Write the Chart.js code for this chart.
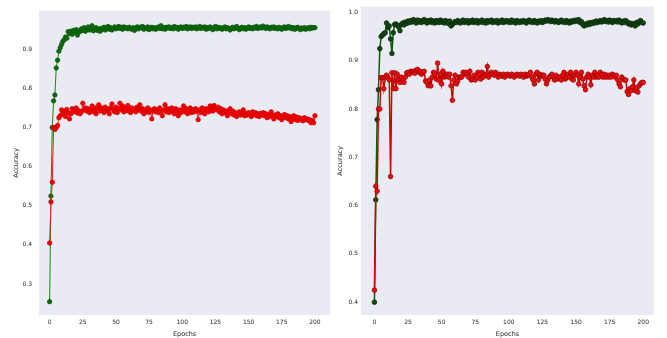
<!DOCTYPE html>
<html>
<head>
<meta charset="utf-8">
<script src="https://cdn.jsdelivr.net/npm/chart.js@4.4.1/dist/chart.umd.min.js"></script>
<style>
  html, body { margin: 0; padding: 0; background: #fff; }
  .panel { position: absolute; top: 0; height: 338px; }
  #left  { left: 0;     width: 335px; }
  #right { left: 335px; width: 332px; }
</style>
</head>
<body>
<div class="panel" id="left"><canvas id="chartLeft"></canvas></div>
<div class="panel" id="right"><canvas id="chartRight"></canvas></div>
<script>
'use strict';

/* ─── Data ─────────────────────────────────────────────────── */
const epochs = Array.from({ length: 201 }, (_, i) => i);
const xTicks = [0, 25, 50, 75, 100, 125, 150, 175, 200];
const yTicksLeft  = [0.3, 0.4, 0.5, 0.6, 0.7, 0.8, 0.9];
const yTicksRight = [0.4, 0.5, 0.6, 0.7, 0.8, 0.9, 1.0];

// left panel – training accuracy
const trainLeft = [
  0.255, 0.525, 0.700, 0.768, 0.783, 0.852, 0.872, 0.895, 0.904, 0.912,
  0.920, 0.924, 0.931, 0.928, 0.945, 0.940, 0.946, 0.938, 0.948, 0.944,
  0.950, 0.936, 0.947, 0.945, 0.952, 0.948, 0.955, 0.946, 0.950, 0.957,
  0.949, 0.953, 0.960, 0.947, 0.951, 0.955, 0.948, 0.952, 0.946, 0.953,
  0.950, 0.956, 0.949, 0.954, 0.958, 0.951, 0.955, 0.949, 0.953, 0.957,
  0.952, 0.955, 0.958, 0.953, 0.956, 0.951, 0.957, 0.954, 0.955, 0.952,
  0.956, 0.953, 0.951, 0.955, 0.948, 0.954, 0.957, 0.952, 0.956, 0.955,
  0.958, 0.951, 0.955, 0.953, 0.957, 0.950, 0.954, 0.956, 0.952, 0.955,
  0.951, 0.954, 0.957, 0.953, 0.960, 0.952, 0.955, 0.951, 0.956, 0.954,
  0.957, 0.953, 0.955, 0.952, 0.958, 0.954, 0.956, 0.951, 0.955, 0.957,
  0.953, 0.956, 0.954, 0.958, 0.952, 0.955, 0.957, 0.953, 0.956, 0.954,
  0.957, 0.952, 0.955, 0.958, 0.953, 0.956, 0.954, 0.957, 0.951, 0.955,
  0.953, 0.957, 0.954, 0.950, 0.955, 0.958, 0.952, 0.956, 0.953, 0.955,
  0.951, 0.954, 0.957, 0.952, 0.955, 0.953, 0.949, 0.954, 0.956, 0.952,
  0.955, 0.958, 0.953, 0.950, 0.954, 0.956, 0.952, 0.955, 0.951, 0.954,
  0.957, 0.953, 0.955, 0.952, 0.956, 0.954, 0.958, 0.953, 0.955, 0.957,
  0.954, 0.959, 0.956, 0.953, 0.957, 0.955, 0.952, 0.956, 0.954, 0.957,
  0.953, 0.955, 0.952, 0.956, 0.954, 0.951, 0.955, 0.957, 0.953, 0.955,
  0.958, 0.954, 0.956, 0.952, 0.955, 0.951, 0.954, 0.956, 0.953, 0.950,
  0.954, 0.952, 0.955, 0.951, 0.953, 0.955, 0.952, 0.956, 0.954, 0.955,
  0.955
];

// left panel – validation accuracy
const valLeft = [
  0.405, 0.510, 0.560, 0.700, 0.695, 0.700, 0.705, 0.725, 0.730, 0.745,
  0.735, 0.742, 0.728, 0.746, 0.738, 0.722, 0.735, 0.748, 0.740, 0.745,
  0.750, 0.737, 0.743, 0.735, 0.740, 0.762, 0.745, 0.750, 0.742, 0.748,
  0.738, 0.745, 0.755, 0.740, 0.750, 0.735, 0.748, 0.758, 0.742, 0.750,
  0.745, 0.738, 0.752, 0.743, 0.747, 0.735, 0.750, 0.760, 0.745, 0.740,
  0.752, 0.738, 0.748, 0.762, 0.745, 0.755, 0.740, 0.750, 0.743, 0.756,
  0.745, 0.738, 0.750, 0.744, 0.748, 0.740, 0.752, 0.745, 0.758, 0.742,
  0.748, 0.735, 0.745, 0.740, 0.750, 0.738, 0.745, 0.722, 0.742, 0.748,
  0.740, 0.745, 0.738, 0.750, 0.742, 0.730, 0.745, 0.758, 0.740, 0.748,
  0.738, 0.745, 0.750, 0.740, 0.735, 0.748, 0.742, 0.730, 0.745, 0.738,
  0.745, 0.755, 0.740, 0.748, 0.735, 0.742, 0.750, 0.738, 0.745, 0.740,
  0.748, 0.742, 0.720, 0.745, 0.738, 0.750, 0.742, 0.735, 0.748, 0.745,
  0.740, 0.755, 0.748, 0.742, 0.756, 0.750, 0.745, 0.752, 0.740, 0.748,
  0.735, 0.745, 0.738, 0.742, 0.730, 0.740, 0.748, 0.735, 0.742, 0.732,
  0.738, 0.728, 0.735, 0.740, 0.732, 0.738, 0.745, 0.730, 0.736, 0.732,
  0.738, 0.735, 0.728, 0.740, 0.733, 0.738, 0.730, 0.735, 0.728, 0.736,
  0.732, 0.738, 0.730, 0.735, 0.725, 0.733, 0.728, 0.740, 0.730, 0.722,
  0.732, 0.728, 0.735, 0.725, 0.730, 0.720, 0.728, 0.733, 0.725, 0.730,
  0.722, 0.728, 0.715, 0.725, 0.730, 0.720, 0.727, 0.718, 0.725, 0.720,
  0.723, 0.717, 0.725, 0.720, 0.722, 0.718, 0.720, 0.712, 0.718, 0.712,
  0.730
];

// right panel – training accuracy
const trainRight = [
  0.400, 0.612, 0.778, 0.840, 0.925, 0.950, 0.953, 0.956, 0.958, 0.978,
  0.968, 0.972, 0.945, 0.915, 0.958, 0.975, 0.976, 0.973, 0.970, 0.962,
  0.975, 0.978, 0.974, 0.980, 0.977, 0.982, 0.979, 0.983, 0.980, 0.985,
  0.981, 0.978, 0.984, 0.980, 0.983, 0.979, 0.982, 0.985, 0.981, 0.978,
  0.983, 0.980, 0.984, 0.979, 0.982, 0.978, 0.983, 0.981, 0.979, 0.984,
  0.980, 0.982, 0.978, 0.983, 0.980, 0.977, 0.982, 0.972, 0.975, 0.978,
  0.981, 0.979, 0.983, 0.980, 0.978, 0.982, 0.984, 0.979, 0.981, 0.983,
  0.978, 0.982, 0.980, 0.984, 0.979, 0.981, 0.983, 0.978, 0.982, 0.980,
  0.984, 0.979, 0.982, 0.978, 0.983, 0.980, 0.981, 0.984, 0.979, 0.982,
  0.980, 0.983, 0.978, 0.982, 0.980, 0.984, 0.979, 0.981, 0.983, 0.980,
  0.982, 0.979, 0.984, 0.980, 0.982, 0.978, 0.983, 0.981, 0.979, 0.982,
  0.980, 0.983, 0.981, 0.978, 0.982, 0.984, 0.980, 0.982, 0.979, 0.983,
  0.981, 0.978, 0.982, 0.980, 0.983, 0.979, 0.981, 0.984, 0.982, 0.985,
  0.983, 0.981, 0.984, 0.982, 0.980, 0.983, 0.981, 0.979, 0.982, 0.984,
  0.980, 0.982, 0.979, 0.983, 0.981, 0.978, 0.982, 0.980, 0.983, 0.981,
  0.984, 0.982, 0.985, 0.979, 0.981, 0.975, 0.972, 0.976, 0.974, 0.978,
  0.975, 0.979, 0.977, 0.980, 0.978, 0.982, 0.979, 0.981, 0.983, 0.980,
  0.982, 0.985, 0.981, 0.983, 0.980, 0.984, 0.982, 0.979, 0.983, 0.981,
  0.983, 0.980, 0.984, 0.981, 0.978, 0.982, 0.979, 0.983, 0.980, 0.976,
  0.978, 0.974, 0.977, 0.975, 0.972, 0.979, 0.976, 0.981, 0.983, 0.979,
  0.978
];

// right panel – validation accuracy
const valRight = [
  0.425, 0.640, 0.630, 0.800, 0.800, 0.865, 0.865, 0.842, 0.865, 0.870,
  0.866, 0.860, 0.660, 0.875, 0.842, 0.875, 0.842, 0.872, 0.860, 0.855,
  0.866, 0.860, 0.855, 0.866, 0.875, 0.876, 0.872, 0.878, 0.876, 0.878,
  0.874, 0.880, 0.882, 0.876, 0.878, 0.872, 0.876, 0.878, 0.858, 0.855,
  0.848, 0.860, 0.848, 0.866, 0.876, 0.872, 0.862, 0.895, 0.860, 0.872,
  0.852, 0.878, 0.866, 0.870, 0.872, 0.866, 0.872, 0.848, 0.818, 0.860,
  0.870, 0.852, 0.858, 0.866, 0.866, 0.866, 0.876, 0.872, 0.876, 0.872,
  0.866, 0.878, 0.860, 0.862, 0.870, 0.860, 0.866, 0.876, 0.872, 0.862,
  0.876, 0.866, 0.872, 0.870, 0.888, 0.866, 0.872, 0.876, 0.872, 0.870,
  0.876, 0.872, 0.866, 0.872, 0.870, 0.868, 0.872, 0.866, 0.870, 0.872,
  0.870, 0.868, 0.872, 0.870, 0.866, 0.870, 0.872, 0.870, 0.868, 0.872,
  0.870, 0.866, 0.872, 0.868, 0.870, 0.872, 0.876, 0.866, 0.860, 0.852,
  0.872, 0.876, 0.860, 0.872, 0.868, 0.870, 0.870, 0.862, 0.852, 0.860,
  0.866, 0.868, 0.872, 0.866, 0.860, 0.870, 0.862, 0.866, 0.866, 0.860,
  0.870, 0.876, 0.862, 0.866, 0.872, 0.866, 0.876, 0.862, 0.860, 0.870,
  0.876, 0.870, 0.852, 0.866, 0.876, 0.862, 0.848, 0.840, 0.866, 0.872,
  0.866, 0.850, 0.870, 0.866, 0.876, 0.866, 0.870, 0.866, 0.876, 0.872,
  0.866, 0.872, 0.866, 0.870, 0.866, 0.870, 0.866, 0.872, 0.870, 0.866,
  0.870, 0.860, 0.852, 0.846, 0.866, 0.862, 0.860, 0.860, 0.836, 0.830,
  0.842, 0.838, 0.846, 0.860, 0.838, 0.844, 0.835, 0.848, 0.852, 0.855,
  0.855
];

/* ─── Helpers ──────────────────────────────────────────────── */
const toPoints = vals => vals.map((v, i) => ({ x: epochs[i], y: v }));

// seaborn-ish grey plot area
const plotBackground = {
  id: 'plotBackground',
  beforeDraw(chart) {
    const { ctx, chartArea: a } = chart;
    ctx.save();
    ctx.fillStyle = '#eaeaf2';
    ctx.fillRect(a.left, a.top, a.right - a.left, a.bottom - a.top);
    ctx.restore();
  }
};

const FONT = 'DejaVu Sans';
const TEXT = '#262626';

function buildChart(canvasId, cfg) {
  return new Chart(document.getElementById(canvasId), {
    type: 'line',
    data: {
      datasets: [
        {
          label: 'train',
          data: toPoints(cfg.train),
          borderColor: cfg.trainLine,
          backgroundColor: cfg.trainDot,
          pointBorderColor: cfg.trainDotEdge,
          borderWidth: cfg.lineWidth,
          pointRadius: cfg.dotRadius,
          pointBorderWidth: 0.8,
          tension: 0,
          order: 2,
        },
        {
          label: 'val',
          data: toPoints(cfg.val),
          borderColor: cfg.valLine,
          backgroundColor: cfg.valDot,
          pointBorderColor: cfg.valDotEdge,
          borderWidth: cfg.lineWidth,
          pointRadius: cfg.dotRadius,
          pointBorderWidth: 0.8,
          tension: 0,
          order: 1,
        }
      ]
    },
    options: {
      responsive: true,
      maintainAspectRatio: false,
      animation: false,
      layout: { padding: { top: 2, right: cfg.padRight, bottom: 0, left: 0 } },
      plugins: { legend: { display: false }, tooltip: { enabled: false } },
      scales: {
        x: {
          type: 'linear',
          min: cfg.xMin, max: cfg.xMax,
          afterBuildTicks: s => { s.ticks = xTicks.map(v => ({ value: v })); },
          afterFit: s => { s.height = 23; },
          grid: { display: false, drawTicks: false },
          border: { display: false },
          ticks: { color: TEXT, font: { family: FONT, size: 6 }, padding: 4, maxRotation: 0 },
          title: { display: true, text: 'Epochs', color: TEXT, font: { family: FONT, size: 6.5 }, padding: { top: 1, bottom: 0 } }
        },
        y: {
          min: cfg.yMin, max: cfg.yMax,
          afterBuildTicks: s => { s.ticks = cfg.yTicks.map(v => ({ value: v })); },
          afterFit: s => { s.width = cfg.yAxisWidth; },
          grid: { display: false, drawTicks: false },
          border: { display: false },
          ticks: { color: TEXT, font: { family: FONT, size: 6 }, padding: cfg.yTickPad, callback: v => v.toFixed(1) },
          title: { display: true, text: 'Accuracy', color: TEXT, font: { family: FONT, size: 6.5 }, padding: { top: cfg.yTitlePad, bottom: 0 } }
        }
      }
    },
    plugins: [plotBackground]
  });
}

/* ─── Charts ───────────────────────────────────────────────── */
buildChart('chartLeft', {
  train: trainLeft, val: valLeft,
  trainLine: '#138a13', trainDot: '#0c6a0c', trainDotEdge: '#0b5a0b',
  valLine: '#ff1a1a', valDot: '#f00000', valDotEdge: '#d40000',
  lineWidth: 1, dotRadius: 2.2,
  xMin: -8, xMax: 211.5, yMin: 0.221, yMax: 0.9986,
  yTicks: yTicksLeft, yAxisWidth: 39, yTickPad: 7, yTitlePad: 12, padRight: 4
});

buildChart('chartRight', {
  train: trainRight, val: valRight,
  trainLine: '#0a5e0a', trainDot: '#124812', trainDotEdge: '#0a2a0a',
  valLine: '#d00000', valDot: '#e81010', valDotEdge: '#a00000',
  lineWidth: 1.5, dotRadius: 2.3,
  xMin: -10, xMax: 208, yMin: 0.3735, yMax: 1.012,
  yTicks: yTicksRight, yAxisWidth: 26, yTickPad: 3, yTitlePad: 1.5, padRight: 13
});
</script>
</body>
</html>
